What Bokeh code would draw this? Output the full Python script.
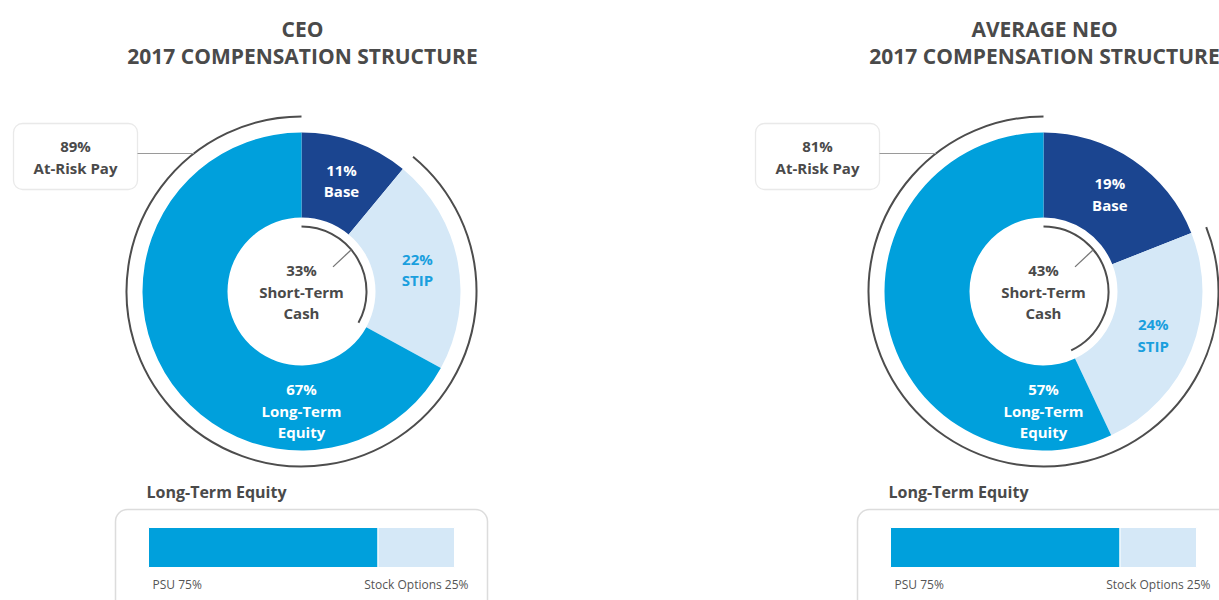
import math
from bokeh.plotting import figure
from bokeh.models import Range1d, BoxAnnotation
from bokeh.core.properties import value
from bokeh.embed import file_html
from bokeh.resources import INLINE

# ---------------- data ----------------
panel_titles = ["CEO", "AVERAGE NEO"]
subtitle = "2017 COMPENSATION STRUCTURE"
segment_names = ["Base", "STIP", "Long-Term\nEquity"]
ceo_pct = [11, 22, 67]
neo_pct = [19, 24, 57]
ceo_at_risk = 89
neo_at_risk = 81
ceo_short_term = 33
neo_short_term = 43
lte_parts = ["PSU", "Stock Options"]
ceo_lte = [75, 25]
neo_lte = [75, 25]

# ---------------- style ----------------
NAVY = "#1b4590"
LIGHT = "#d5e8f7"
CYAN = "#00a0dc"
STIP_TXT = "#1a9fde"
GRAY_TXT = "#4a4a4a"
ARC_COL = "#4d4d4d"
BOX_LINE = "#b5b5b5"
FONT = value("Open Sans")
seg_colors = [NAVY, LIGHT, CYAN]
seg_text_colors = ["white", STIP_TXT, "white"]

W, H = 1219, 600
p = figure(width=W, height=H, output_backend="svg", toolbar_location=None,
           x_range=Range1d(0, W), y_range=Range1d(-H, 0),
           min_border=0)
p.axis.visible = False
p.grid.visible = False
p.outline_line_color = None
p.background_fill_color = "white"

R_IN, R_OUT, R_ARC, R_CASH = 74, 159, 175, 65
LINE_H = 21.5


def rad(deg):
    return math.radians(deg)


def pol(cx, cy, r, theta):
    # theta: degrees clockwise from 12 o'clock; returns data coords
    return cx + r * math.sin(rad(theta)), -cy + r * math.cos(rad(theta))


def multiline(x, y_center, lines, color, size="15px", style="bold"):
    n = len(lines)
    ys = [y_center + (n - 1) / 2 * LINE_H - i * LINE_H for i in range(n)]
    p.text(x=[x] * n, y=ys, text=lines, text_color=color, text_font=FONT,
           text_font_size=size, text_font_style=style,
           text_align="center", text_baseline="middle")


def panel(cx, cy, title, pcts, at_risk, short_term, lte):
    # titles
    p.text(x=[cx + 1, cx + 1], y=[-28, -55], text=[title, subtitle],
           text_color=GRAY_TXT, text_font=FONT, text_font_size="21px",
           text_font_style="bold", text_align="center", text_baseline="middle")

    # donut wedges
    th0 = 0.0
    mids = []
    for pct, col in zip(pcts, seg_colors):
        th1 = th0 + pct * 3.6
        p.annular_wedge(x=cx, y=-cy, inner_radius=R_IN, outer_radius=R_OUT,
                        start_angle=rad(90 - th0), end_angle=rad(90 - th1),
                        direction="clock", fill_color=col, line_color=None)
        mids.append((th0 + th1) / 2)
        th0 = th1

    # segment labels
    for i, (pct, name, tcol) in enumerate(zip(pcts, segment_names, seg_text_colors)):
        lines = [f"{pct}%"] + name.split("\n")
        if i == len(pcts) - 1:
            x, y = pol(cx, cy, 119, 180)
        else:
            x, y = pol(cx, cy, 118, mids[i])
        multiline(x, y, lines, tcol)

    # outer at-risk arc (everything except base)
    th_start = (100 - at_risk) * 3.6
    p.arc(x=cx, y=-cy, radius=R_ARC, start_angle=rad(90 - th_start),
          end_angle=rad(90 - 360), direction="clock",
          line_color=ARC_COL, line_width=2)

    # inner short-term cash arc
    th_cash = short_term * 3.6
    p.arc(x=cx, y=-cy, radius=R_CASH, start_angle=rad(90),
          end_angle=rad(90 - th_cash), direction="clock",
          line_color=ARC_COL, line_width=2)
    x0, y0 = pol(cx, cy, R_CASH, 50)
    x1, y1 = pol(cx, cy, 40, 52)
    p.segment(x0=[x0], y0=[y0], x1=[x1], y1=[y1], line_color="#777777", line_width=1.3)
    multiline(cx, -cy + 0, [f"{short_term}%", "Short-Term", "Cash"], GRAY_TXT)

    # at-risk callout box
    bl, br, bt, bb = cx - 288, cx - 164, cy - 168, cy - 102
    p.add_layout(BoxAnnotation(left=bl, right=br, top=-bt, bottom=-bb,
                               fill_color="white", fill_alpha=1,
                               line_color=BOX_LINE, line_width=1.3,
                               border_radius=9, level="underlay"))
    ly = cy - 138
    lx = cx - math.sqrt(R_ARC ** 2 - (cy - ly) ** 2)
    p.segment(x0=[br], y0=[-ly], x1=[lx], y1=[-ly], line_color="#9a9a9a", line_width=1.2)
    p.text(x=[(bl + br) / 2] * 2, y=[-(bt + 22), -(bt + 44)],
           text=[f"{at_risk}%", "At-Risk Pay"], text_color=GRAY_TXT, text_font=FONT,
           text_font_size="15px", text_font_style="bold", text_align="center",
           text_baseline="middle")

    # long-term equity bar
    p.text(x=[cx - 155], y=[-(cy + 200)], text=["Long-Term Equity"], text_color=GRAY_TXT,
           text_font=FONT, text_font_size="16px", text_font_style="bold",
           text_align="left", text_baseline="middle")
    p.add_layout(BoxAnnotation(left=cx - 186, right=cx + 186, top=-(cy + 218),
                               bottom=-(cy + 330), fill_color="white", fill_alpha=0,
                               line_color="#8a8a8a", line_width=1.5, border_radius=12,
                               level="underlay"))
    bar_x0, bar_w = cx - 153, 306
    bar_top, bar_bot = cy + 236, cy + 276
    total = sum(lte)
    left = bar_x0
    for share, col in zip(lte, [CYAN, LIGHT]):
        wpx = bar_w * share / total
        p.quad(left=[left], right=[left + wpx], top=[-bar_top], bottom=[-bar_bot],
               fill_color=col, line_color="white", line_width=1)
        left += wpx
    p.text(x=[bar_x0 + 4], y=[-(cy + 293)], text=[f"{lte_parts[0]} {lte[0]}%"],
           text_color="#555555", text_font=FONT, text_font_size="12px",
           text_align="left", text_baseline="middle")
    p.text(x=[bar_x0 + bar_w + 14], y=[-(cy + 293)], text=[f"{lte_parts[1]} {lte[1]}%"],
           text_color="#555555", text_font=FONT, text_font_size="12px",
           text_align="right", text_baseline="middle")


panel(301, 291, panel_titles[0], ceo_pct, ceo_at_risk, ceo_short_term, ceo_lte)
panel(1043, 291, panel_titles[1], neo_pct, neo_at_risk, neo_short_term, neo_lte)

open("out.html", "w").write(file_html(p, INLINE))
